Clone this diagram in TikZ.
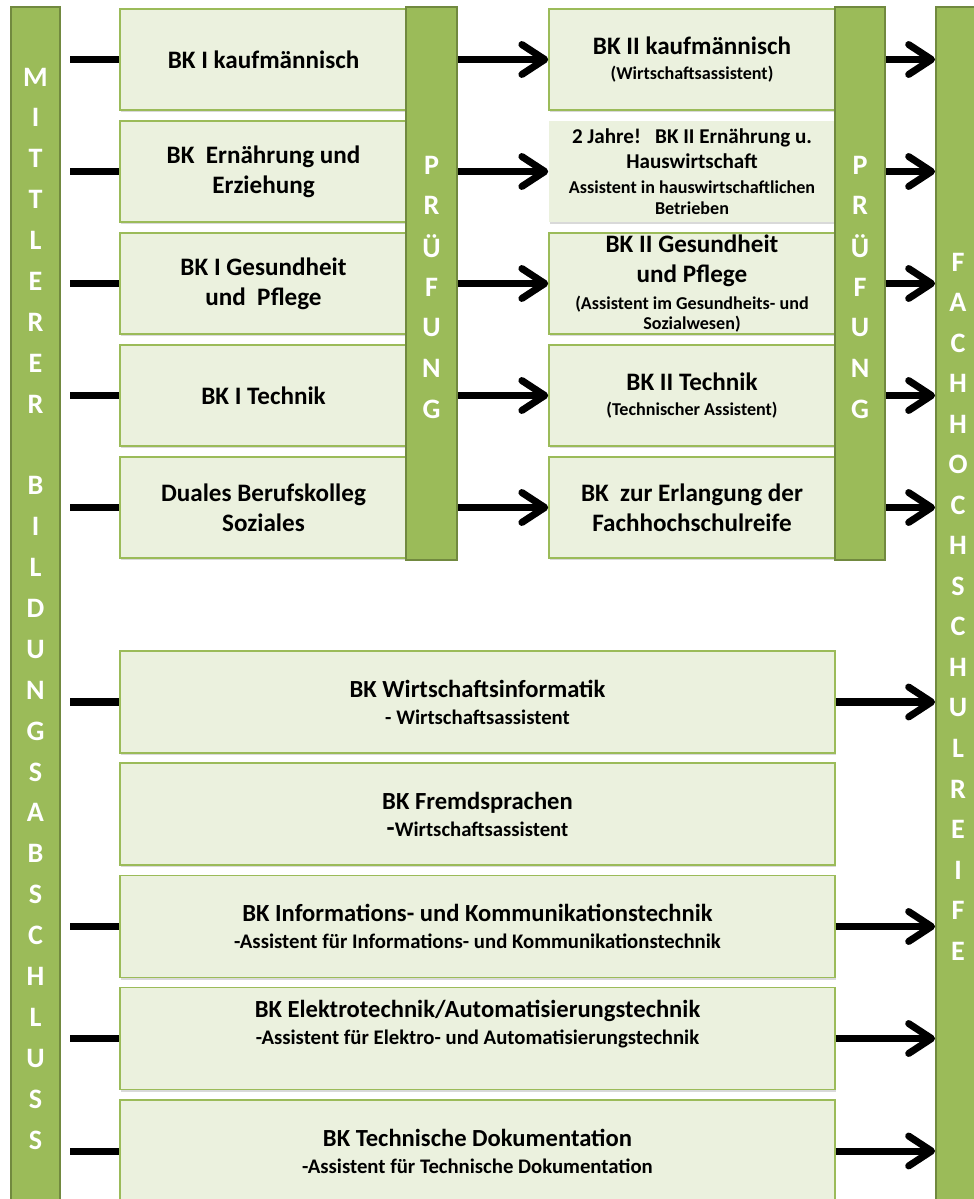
\documentclass[tikz,border=0pt]{standalone}
\usepackage{fontspec}
\setmainfont{Carlito}
\usetikzlibrary{positioning,arrows.meta,shadows}

\definecolor{balken}{HTML}{9BBB59}
\definecolor{balkenrand}{HTML}{71893F}
\definecolor{kastenfill}{HTML}{EBF1DE}

\newcommand{\unter}{\fontsize{10.3}{12}\selectfont}
\newcommand{\breitunter}{\fontsize{11.8}{14}\selectfont}

\tikzset{
  kasten/.style={draw=balken, fill=kastenfill, line width=0.9pt, align=center,
    minimum width=5.74cm, minimum height=2.02cm, inner sep=1pt,
    font=\fontsize{14.3}{17}\selectfont\bfseries,
    drop shadow={shadow xshift=0.6pt, shadow yshift=-1.2pt, opacity=0.3}},
  mitte/.style={kasten, minimum width=5.72cm},
  breit/.style={kasten, minimum width=14.3cm, minimum height=2.04cm,
    font=\fontsize{14}{15.3}\selectfont\bfseries},
  balkenbox/.style={draw=balkenrand, fill=balken, line width=1.1pt, minimum width=1cm},
  buchstabe/.style={text=white, font=\fontsize{16}{16}\selectfont\bfseries, inner sep=0pt},
  stub/.style={line width=4pt},
  pfeil/.style={line width=4pt, -{Straight Barb[length=13pt,width=17pt,line cap=round,line join=round]}}
}

\begin{document}
\begin{tikzpicture}[x=0.02cm,y=-0.02cm]
\useasboundingbox (0,0) rectangle (973,1199);

% erste Spalte
\node[kasten] (bkeinskauf) at (263.5,59.5) {BK I kaufmännisch};
\node[kasten] (bkeinsern) at (263.5,171.5) {BK\ \ Ernährung und\\Erziehung};
\node[kasten] (bkeinsges) at (263.5,283.5) {BK I Gesundheit\\und\ \ Pflege};
\node[kasten] (bkeinstech) at (263.5,395.5) {BK I Technik};
\node[kasten] (duales) at (263.5,507.5) {Duales Berufskolleg\\Soziales};

% zweite Spalte
\node[mitte] (bkzweikauf) at (692,59.5)
  {BK II kaufmännisch\\[-2.3pt]\unter (Wirtschaftsassistent)};
\node[mitte, draw=none, font=\fontsize{12}{14.2}\selectfont\bfseries] (bkzweiern) at (692,171.5)
  {2 Jahre!\ \ \ BK II Ernährung\ u.\\Hauswirtschaft\\\unter Assistent in hauswirtschaftlichen\\[-2.3pt]\unter Betrieben};
\node[mitte] (bkzweiges) at (692,283.5)
  {BK II Gesundheit\\und Pflege\\[-1.7pt]\unter (Assistent im Gesundheits- und\\[-5.7pt]\unter Sozialwesen)};
\node[mitte] (bkzweitech) at (692,395.5)
  {BK II Technik\\[-2.8pt]\unter (Technischer Assistent)};
\node[mitte] (fhrkolleg) at (692,507.5)
  {BK\ \ zur Erlangung der\\Fachhochschulreife};

% breite Kaesten unten
\node[breit] (winf) at (477.5,702) {BK Wirtschaftsinformatik\\\breitunter - Wirtschaftsassistent};
\node[breit] (fremd) at (477.5,814) {BK Fremdsprachen\\\breitunter {\fontsize{15}{15}\selectfont -}Wirtschaftsassistent};
\node[breit] (iuk) at (477.5,926.5) {BK Informations- und Kommunikationstechnik\\\breitunter -Assistent für Informations- und\ Kommunikationstechnik};
\node[breit] (elektro) at (477.5,1038.5) {};
\node[align=center, inner sep=0pt, font=\fontsize{14}{15.3}\selectfont\bfseries] (elektrotext) at ([yshift=0.28cm]elektro.center)
  {BK Elektrotechnik/Automatisierungstechnik\\\breitunter -Assistent für Elektro- und\ Automatisierungstechnik};
\node[breit] (tdok) at (477.5,1151) {BK Technische Dokumentation\\\breitunter -Assistent für Technische Dokumentation};

% Balken
\node[balkenbox, minimum width=0.98cm, minimum height=24.1cm] (mittlerer) at (35.5,609) {};
\node[balkenbox, minimum width=1.02cm, minimum height=11.06cm] (pruefeins) at (431.5,283.5) {};
\node[balkenbox, minimum width=1cm, minimum height=11.06cm] (pruefzwei) at (860,283.5) {};
\node[balkenbox, minimum width=1.08cm, minimum height=24.1cm] (fhr) at (963,609) {};

\foreach \c [count=\i] in {M,I,T,T,L,E,R,E,R,{},B,I,L,D,U,N,G,S,A,B,S,C,H,L,U,S,S}
  \node[buchstabe] at (35.5,{77+40.88*(\i-1)}) {\c};
\foreach \c [count=\i] in {P,R,Ü,F,U,N,G} {
  \node[buchstabe] at (431.5,{165+40.7*(\i-1)}) {\c};
  \node[buchstabe] at (860,{165+40.7*(\i-1)}) {\c};
}
\foreach \c [count=\i] in {F,A,C,H,H,O,C,H,S,C,H,U,L,R,E,I,F,E}
  \node[buchstabe] at (958,{262+40.53*(\i-1)}) {\c};

% Verbindungen
\coordinate (stubx) at (70,0);
\foreach \k in {bkeinskauf,bkeinsern,bkeinsges,bkeinstech,duales,winf,iuk,elektro,tdok}
  \draw[stub] (stubx |- \k.west) -- (\k.west);
\foreach \k in {bkzweikauf,bkzweiern,bkzweiges,bkzweitech,fhrkolleg} {
  \draw[pfeil] (pruefeins.east |- \k.west) -- (\k.west);
  \draw[pfeil] (pruefzwei.east |- \k.east) -- (fhr.west |- \k.east);
}
\foreach \k in {winf,iuk,elektro,tdok}
  \draw[pfeil] (\k.east) -- (fhr.west |- \k.east);
\end{tikzpicture}
\end{document}
